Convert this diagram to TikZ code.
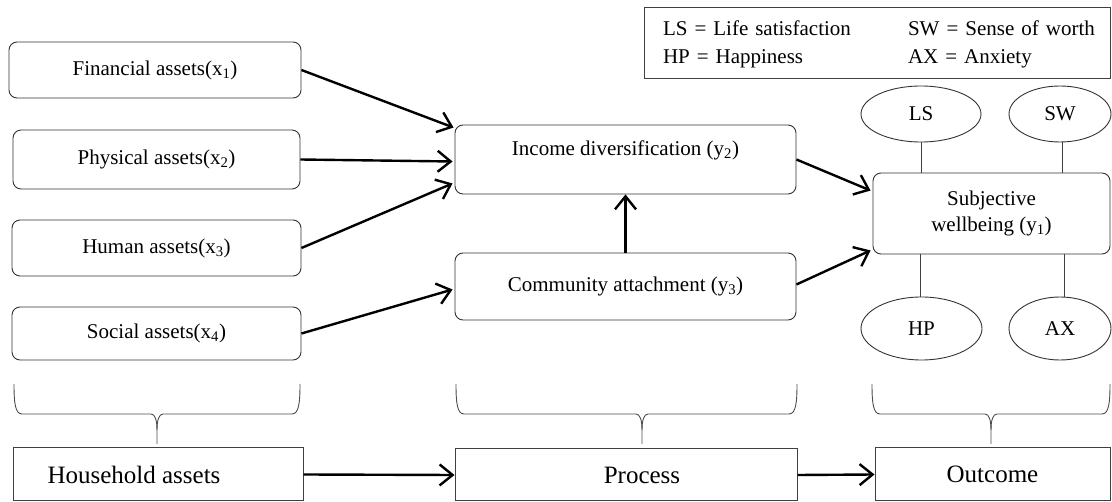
\documentclass[tikz,border=0pt]{standalone}
\usepackage{fontspec}
\setmainfont{Liberation Serif}
\usetikzlibrary{arrows.meta,shapes.geometric,calc}
\tikzset{
  boxr/.style={draw=black!80, line width=0.9pt, rounded corners=8pt, inner sep=0pt,
    font=\fontsize{21pt}{26pt}\selectfont},
  boxs/.style={draw=black!75, line width=1pt, inner sep=0pt,
    font=\fontsize{25pt}{30pt}\selectfont},
  ell/.style={draw=black!80, line width=0.9pt, ellipse, inner sep=0pt,
    font=\fontsize{21pt}{26pt}\selectfont},
  conn/.style={line width=2.4pt, -{Straight Barb[length=13pt,width=21pt]}},
  thinline/.style={draw=black!75, line width=0.9pt},
  braceline/.style={draw=black!70, line width=0.9pt},
}
\newcommand{\dbrace}[3]{%
  \draw[braceline] (#1,384) .. controls (#1,402) and (#1+1,414) .. (#1+8,414)
     -- (#3-6,414) .. controls (#3-2,414) and (#3,420) .. (#3,430) -- (#3,444);
  \draw[braceline] (#3,430) .. controls (#3,420) and (#3+2,414) .. (#3+6,414)
     -- (#2-8,414) .. controls (#2-1,414) and (#2,402) .. (#2,384);
}
\begin{document}
\begin{tikzpicture}[x=1pt,y=-1pt]
\useasboundingbox (0,0) rectangle (1112,502);
% left column
\node[boxr, minimum width=292pt, minimum height=56pt] (fin) at (155,70) {Financial assets(x\textsubscript{1})};
\node[boxr, minimum width=287pt, minimum height=59pt] (phy) at (156.5,159.5) {Physical assets(x\textsubscript{2})};
\node[boxr, minimum width=289pt, minimum height=56pt] (hum) at (156.5,248) {Human assets(x\textsubscript{3})};
\node[boxr, minimum width=289pt, minimum height=53pt] (soc) at (156.5,333.5) {Social assets(x\textsubscript{4})};
% middle column
\node[boxr, minimum width=341pt, minimum height=69pt, text height=15pt, text depth=23pt] (inc) at (625.5,159.5) {Income diversification (y\textsubscript{2})};
\node[boxr, minimum width=341pt, minimum height=67pt] (comm) at (625.5,286.5) {Community attachment (y\textsubscript{3})};
% right column
\node[boxr, minimum width=237pt, minimum height=81pt, align=center] (sub) at (991.5,213.5) {Subjective\\wellbeing (y\textsubscript{1})};
\node[ell, minimum width=120pt, minimum height=56pt] (ls) at (921,114) {LS};
\node[ell, minimum width=102pt, minimum height=56pt] (sw) at (1060,114) {SW};
\node[ell, minimum width=121pt, minimum height=63pt] (hp) at (921.5,328.5) {HP};
\node[ell, minimum width=102pt, minimum height=63pt] (ax) at (1060,328.5) {AX};
% legend
\node[draw=black!75, line width=1pt, minimum width=466pt, minimum height=71pt, inner xsep=19pt, inner ysep=0pt,
  text width=428pt, align=left, font=\fontsize{21pt}{28pt}\selectfont] (leg) at (877,43.5)
  {\begin{tabular}{@{}p{245pt}@{}l@{}}LS = Life satisfaction & SW = Sense of worth\\HP = Happiness & AX = Anxiety\end{tabular}};
% bottom row
\node[boxs, minimum width=290pt, minimum height=53pt] (hh) at (158,474.5) {Household assets\hspace*{48pt}};
\node[boxs, minimum width=342pt, minimum height=52pt] (proc) at (626,475) {\hspace*{32pt}Process};
\node[boxs, minimum width=235pt, minimum height=53pt] (out) at (992.5,474.5) {Outcome};
% connectors
\draw[conn] (fin.east) -- ($(inc.north west)+(-1,3)$);
\draw[conn] (phy.east) -- ($(inc.west)+(-2,2)$);
\draw[conn] (hum.east) -- ($(inc.south west)+(-2,-11)$);
\draw[conn] (soc.east) -- ($(comm.west)+(-2,3)$);
\draw[conn] (comm.north) -- (inc.south);
\draw[conn] (inc.east) -- ($(sub.north west)+(-2,18)$);
\draw[conn] ($(comm.east)+(0,-2)$) -- ($(sub.south west)+(-2,-4)$);
\draw[conn] (hh.east) -- (proc.west);
\draw[conn] (proc.east) -- (out.west);
% indicator lines
\draw[thinline] (ls.south) -- (ls.south |- sub.north);
\draw[thinline] ($(sw.south)+(2,0)$) -- ($(sw.south |- sub.north)+(2,0)$);
\draw[thinline] ($(hp.north)+(-1.5,0)$) -- ($(hp.north |- sub.south)+(-1.5,0)$);
\draw[thinline] ($(ax.north)+(4,0)$) -- ($(ax.north |- sub.south)+(4,0)$);
% braces
\dbrace{14}{300}{157}
\dbrace{456}{797}{642}
\dbrace{872}{1110}{991}
\end{tikzpicture}
\end{document}
